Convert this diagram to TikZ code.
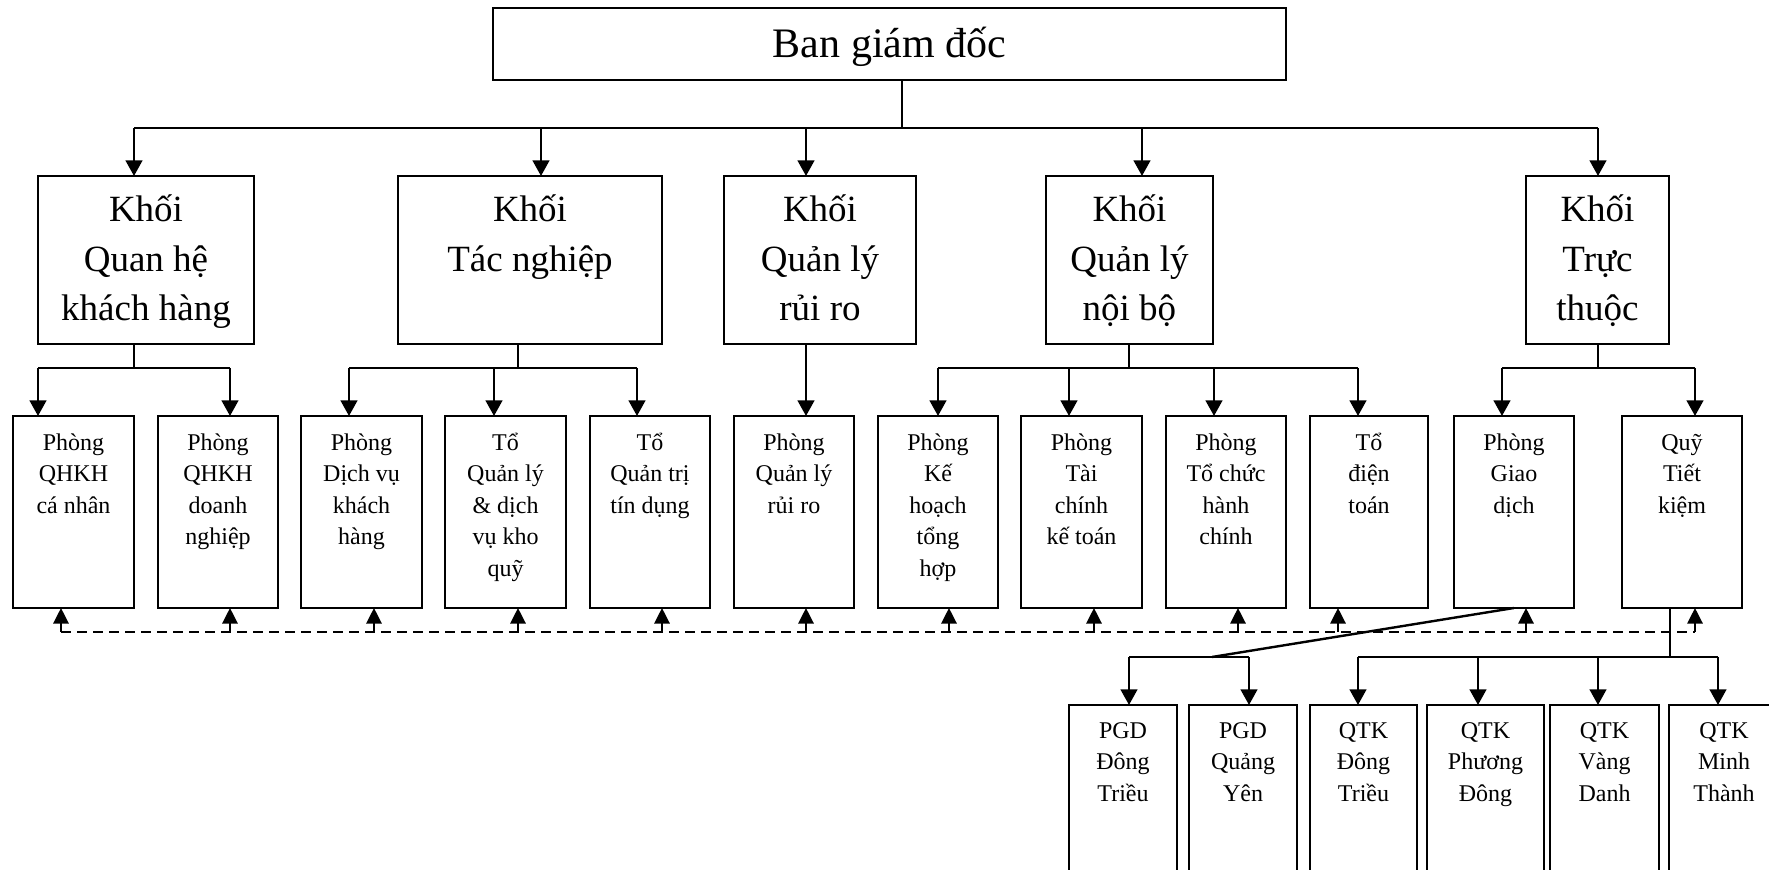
\documentclass[tikz,border=0pt]{standalone}
\usepackage{fontspec}
\setmainfont{Liberation Serif}
\usetikzlibrary{arrows.meta}
\tikzset{
  box/.style={draw, line width=1.1pt, rectangle, inner sep=0pt, outer sep=0pt, anchor=north west},
  ln/.style={line width=0.9pt},
  hl/.style={line width=1.2pt},
  arr/.style={line width=1.2pt, -{Triangle[width=8.3pt,length=7.8pt]}},
  uparr/.style={line width=1.2pt, -{Triangle[width=7.6pt,length=7.8pt]}},
  dsh/.style={line width=1.1pt, dash pattern=on 5pt off 3pt},
  bigtxt/.style={font=\fontsize{21}{25}\selectfont, inner sep=0pt, anchor=base},
  ktxt/.style={font=\fontsize{18.5}{24.85}\selectfont, align=center, inner sep=0pt, anchor=north},
  stxt/.style={font=\fontsize{12}{15.75}\selectfont, align=center, inner sep=0pt, anchor=north},
}
\newcommand\orgbox[5]{\node[box, minimum width={0.5pt*(#4-#2)}, minimum height={0.5pt*(#5-#3)}] (#1) at (#2,#3) {};}
\newcommand\fls{\rule{0pt}{12pt}}
\newcommand\flk{\rule{0pt}{20pt}}
\begin{document}
\begin{tikzpicture}[x=0.5pt,y=-0.5pt]
\useasboundingbox (0,0) rectangle (1769,870);
\clip (0,0) rectangle (1769,870);
% top
\orgbox{ban}{493}{8}{1286}{80}
\node[bigtxt] (bant) at (889.5,58) {Ban giám đốc};
% level 1
\orgbox{k1}{38}{176}{254}{344}
\orgbox{k2}{398}{176}{662}{344}
\orgbox{k3}{724}{176}{916}{344}
\orgbox{k4}{1046}{176}{1213}{344}
\orgbox{k5}{1526}{176}{1669}{344}
\node[ktxt] (k1t) at (146,181) {\flk Khối\\Quan hệ\\khách hàng};
\node[ktxt] (k2t) at (530,181) {\flk Khối\\Tác nghiệp};
\node[ktxt] (k3t) at (820,181) {\flk Khối\\Quản lý\\rủi ro};
\node[ktxt] (k4t) at (1129.5,181) {\flk Khối\\Quản lý\\nội bộ};
\node[ktxt] (k5t) at (1597.5,181) {\flk Khối\\Trực\\thuộc};
% level 2
\orgbox{b1}{13}{416}{134}{608}
\orgbox{b2}{158}{416}{278}{608}
\orgbox{b3}{301}{416}{422}{608}
\orgbox{b4}{445}{416}{566}{608}
\orgbox{b5}{590}{416}{710}{608}
\orgbox{b6}{734}{416}{854}{608}
\orgbox{b7}{878}{416}{998}{608}
\orgbox{b8}{1021}{416}{1142}{608}
\orgbox{b9}{1166}{416}{1286}{608}
\orgbox{b10}{1310}{416}{1428}{608}
\orgbox{b11}{1454}{416}{1574}{608}
\orgbox{b12}{1622}{416}{1742}{608}
\node[stxt] (b1t) at (73.5,426) {\fls Phòng\\QHKH\\cá nhân};
\node[stxt] (b2t) at (218,426) {\fls Phòng\\QHKH\\doanh\\nghiệp};
\node[stxt] (b3t) at (361.5,426) {\fls Phòng\\Dịch vụ\\khách\\hàng};
\node[stxt] (b4t) at (505.5,426) {\fls Tổ\\Quản lý\\\& dịch\\vụ kho\\quỹ};
\node[stxt] (b5t) at (650,426) {\fls Tổ\\Quản trị\\tín dụng};
\node[stxt] (b6t) at (794,426) {\fls Phòng\\Quản lý\\rủi ro};
\node[stxt] (b7t) at (938,426) {\fls Phòng\\Kế\\hoạch\\tổng\\hợp};
\node[stxt] (b8t) at (1081.5,426) {\fls Phòng\\Tài\\chính\\kế toán};
\node[stxt] (b9t) at (1226,426) {\fls Phòng\\Tổ chức\\hành\\chính};
\node[stxt] (b10t) at (1369,426) {\fls Tổ\\điện\\toán};
\node[stxt] (b11t) at (1514,426) {\fls Phòng\\Giao\\dịch};
\node[stxt] (b12t) at (1682,426) {\fls Quỹ\\Tiết\\kiệm};
% level 3
\orgbox{l1}{1069}{705}{1177}{900}
\orgbox{l2}{1189}{705}{1297}{900}
\orgbox{l3}{1310}{705}{1417}{900}
\orgbox{l4}{1427}{705}{1544}{900}
\orgbox{l5}{1550}{705}{1659}{900}
\orgbox{l6}{1669}{705}{1779}{900}
\node[stxt] (l1t) at (1123,714) {\fls PGD\\Đông\\Triều};
\node[stxt] (l2t) at (1243,714) {\fls PGD\\Quảng\\Yên};
\node[stxt] (l3t) at (1363.5,714) {\fls QTK\\Đông\\Triều};
\node[stxt] (l4t) at (1485.5,714) {\fls QTK\\Phương\\Đông};
\node[stxt] (l5t) at (1604.5,714) {\fls QTK\\Vàng\\Danh};
\node[stxt] (l6t) at (1724,714) {\fls QTK\\Minh\\Thành};
% connectors: top to level 1
\coordinate (j0) at (902,128);
\draw[ln] (ban.south -| j0) -- (j0);
\coordinate (hl) at (134,128);
\coordinate (hr) at (1598,128);
\draw[hl] (hl) -- (hr);
\foreach \x/\n in {134/k1,541/k2,806/k3,1142/k4,1598/k5}{
  \coordinate (t\n) at (\x,128);
  \draw[arr] (t\n) -- (t\n |- \n.north);
}
% level 1 to level 2
\coordinate (c1) at (134,368);
\draw[ln] (k1.south -| c1) -- (c1);
\coordinate (c1l) at (38,368); \coordinate (c1r) at (230,368);
\draw[hl] (c1l) -- (c1r);
\coordinate (c2) at (518,368);
\draw[ln] (k2.south -| c2) -- (c2);
\coordinate (c2l) at (349,368); \coordinate (c2r) at (637,368);
\draw[hl] (c2l) -- (c2r);
\coordinate (c3) at (806,368);
\coordinate (c4) at (1129,368);
\draw[ln] (k4.south -| c4) -- (c4);
\coordinate (c4l) at (938,368); \coordinate (c4r) at (1358,368);
\draw[hl] (c4l) -- (c4r);
\coordinate (c5) at (1598,368);
\draw[ln] (k5.south -| c5) -- (c5);
\coordinate (c5l) at (1502,368); \coordinate (c5r) at (1695,368);
\draw[hl] (c5l) -- (c5r);
\foreach \x/\n in {38/b1,230/b2,349/b3,494/b4,637/b5,938/b7,1069/b8,1214/b9,1358/b10,1502/b11,1695/b12}{
  \coordinate (s\n) at (\x,368);
  \draw[arr] (s\n) -- (s\n |- \n.north);
}
\draw[arr] (k3.south -| c3) -- (c3 |- b6.north);
% dashed feedback line
\foreach \x/\n in {61/b1,230/b2,374/b3,518/b4,662/b5,806/b6,949/b7,1094/b8,1238/b9,1338/b10,1526/b11,1695/b12}{
  \coordinate (u\n) at (\x,632);
  \draw[uparr] (u\n) -- (u\n |- \n.south);
}
\draw[dsh] (ub1) -- (ub12);
% level 2 to level 3
\coordinate (pj) at (1212,657);
\draw[hl] (b11.south) -- (pj);
\coordinate (pl) at (1129,657); \coordinate (pr) at (1249,657);
\draw[hl] (pl) -- (pr);
\coordinate (q0) at (1670,657);
\draw[ln] (b12.south -| q0) -- (q0);
\coordinate (ql) at (1358,657); \coordinate (qr) at (1718,657);
\draw[hl] (ql) -- (qr);
\foreach \x/\n in {1129/l1,1249/l2,1358/l3,1478/l4,1598/l5,1718/l6}{
  \coordinate (r\n) at (\x,657);
  \draw[arr] (r\n) -- (r\n |- \n.north);
}
\end{tikzpicture}
\end{document}
